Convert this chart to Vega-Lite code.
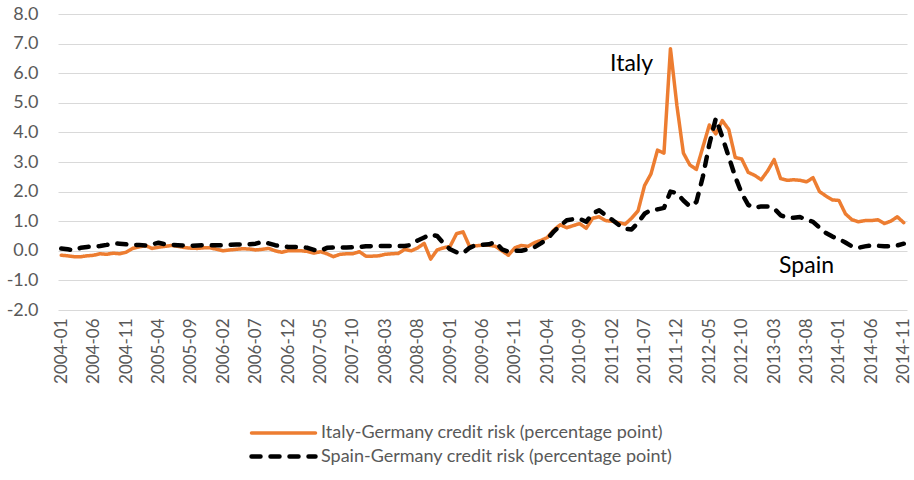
{
  "$schema": "https://vega.github.io/schema/vega-lite/v6.json",
  "autosize": "none",
  "width": 849,
  "height": 296,
  "padding": {"left": 58, "top": 14, "right": 7, "bottom": 170},
  "background": "white",
  "config": {
    "view": {"stroke": null},
    "font": "Lato",
    "legend": {"labelFont": "Lato"},
    "axis": {"labelFont": "Lato"},
    "axisX": {
      "title": null,
      "labelAngle": 270,
      "labelAlign": "right",
      "labelBaseline": "middle",
      "labelFontSize": 17,
      "labelColor": "#595959",
      "labelPadding": 8,
      "labelOverlap": false,
      "labelFlush": false,
      "ticks": false,
      "domain": false,
      "grid": false
    },
    "axisY": {
      "title": null,
      "labelOverlap": false,
      "labelFlush": false,
      "labelFontSize": 18,
      "labelColor": "#595959",
      "labelPadding": 20,
      "ticks": false,
      "domain": false,
      "grid": true,
      "gridColor": "#d9d9d9",
      "gridWidth": 1
    }
  },
  "datasets": {
    "spreads": [
      {"m":"2004-01","Italy":-0.15,"Spain":0.08},
      {"m":"2004-02","Italy":-0.17,"Spain":0.05},
      {"m":"2004-03","Italy":-0.2,"Spain":0.02},
      {"m":"2004-04","Italy":-0.2,"Spain":0.1},
      {"m":"2004-05","Italy":-0.17,"Spain":0.13},
      {"m":"2004-06","Italy":-0.15,"Spain":0.15},
      {"m":"2004-07","Italy":-0.1,"Spain":0.16},
      {"m":"2004-08","Italy":-0.12,"Spain":0.2},
      {"m":"2004-09","Italy":-0.08,"Spain":0.25},
      {"m":"2004-10","Italy":-0.1,"Spain":0.24},
      {"m":"2004-11","Italy":-0.05,"Spain":0.22},
      {"m":"2004-12","Italy":0.08,"Spain":0.19},
      {"m":"2005-01","Italy":0.13,"Spain":0.2},
      {"m":"2005-02","Italy":0.18,"Spain":0.18},
      {"m":"2005-03","Italy":0.08,"Spain":0.22},
      {"m":"2005-04","Italy":0.12,"Spain":0.27},
      {"m":"2005-05","Italy":0.15,"Spain":0.22},
      {"m":"2005-06","Italy":0.18,"Spain":0.2},
      {"m":"2005-07","Italy":0.15,"Spain":0.19},
      {"m":"2005-08","Italy":0.11,"Spain":0.18},
      {"m":"2005-09","Italy":0.09,"Spain":0.17},
      {"m":"2005-10","Italy":0.08,"Spain":0.18},
      {"m":"2005-11","Italy":0.1,"Spain":0.19},
      {"m":"2005-12","Italy":0.1,"Spain":0.19},
      {"m":"2006-01","Italy":0.05,"Spain":0.19},
      {"m":"2006-02","Italy":0.0,"Spain":0.19},
      {"m":"2006-03","Italy":0.03,"Spain":0.2},
      {"m":"2006-04","Italy":0.05,"Spain":0.21},
      {"m":"2006-05","Italy":0.07,"Spain":0.21},
      {"m":"2006-06","Italy":0.06,"Spain":0.22},
      {"m":"2006-07","Italy":0.03,"Spain":0.24},
      {"m":"2006-08","Italy":0.05,"Spain":0.3},
      {"m":"2006-09","Italy":0.08,"Spain":0.25},
      {"m":"2006-10","Italy":0.0,"Spain":0.19},
      {"m":"2006-11","Italy":-0.05,"Spain":0.15},
      {"m":"2006-12","Italy":0.0,"Spain":0.13},
      {"m":"2007-01","Italy":0.0,"Spain":0.13},
      {"m":"2007-02","Italy":0.0,"Spain":0.13},
      {"m":"2007-03","Italy":-0.02,"Spain":0.1},
      {"m":"2007-04","Italy":-0.08,"Spain":0.03},
      {"m":"2007-05","Italy":-0.03,"Spain":0.0},
      {"m":"2007-06","Italy":-0.1,"Spain":0.1},
      {"m":"2007-07","Italy":-0.2,"Spain":0.11},
      {"m":"2007-08","Italy":-0.12,"Spain":0.11},
      {"m":"2007-09","Italy":-0.1,"Spain":0.11},
      {"m":"2007-10","Italy":-0.1,"Spain":0.12},
      {"m":"2007-11","Italy":-0.03,"Spain":0.13},
      {"m":"2007-12","Italy":-0.18,"Spain":0.15},
      {"m":"2008-01","Italy":-0.18,"Spain":0.16},
      {"m":"2008-02","Italy":-0.17,"Spain":0.16},
      {"m":"2008-03","Italy":-0.12,"Spain":0.16},
      {"m":"2008-04","Italy":-0.1,"Spain":0.16},
      {"m":"2008-05","Italy":-0.09,"Spain":0.16},
      {"m":"2008-06","Italy":0.05,"Spain":0.16},
      {"m":"2008-07","Italy":0.0,"Spain":0.2},
      {"m":"2008-08","Italy":0.1,"Spain":0.35},
      {"m":"2008-09","Italy":0.25,"Spain":0.45},
      {"m":"2008-10","Italy":-0.28,"Spain":0.55},
      {"m":"2008-11","Italy":0.03,"Spain":0.5},
      {"m":"2008-12","Italy":0.1,"Spain":0.25},
      {"m":"2009-01","Italy":0.15,"Spain":0.05},
      {"m":"2009-02","Italy":0.58,"Spain":-0.05},
      {"m":"2009-03","Italy":0.64,"Spain":-0.08},
      {"m":"2009-04","Italy":0.15,"Spain":0.1},
      {"m":"2009-05","Italy":0.17,"Spain":0.2},
      {"m":"2009-06","Italy":0.19,"Spain":0.2},
      {"m":"2009-07","Italy":0.19,"Spain":0.22},
      {"m":"2009-08","Italy":0.15,"Spain":0.3},
      {"m":"2009-09","Italy":0.0,"Spain":0.05},
      {"m":"2009-10","Italy":-0.15,"Spain":-0.03},
      {"m":"2009-11","Italy":0.1,"Spain":0.0},
      {"m":"2009-12","Italy":0.18,"Spain":0.0},
      {"m":"2010-01","Italy":0.15,"Spain":0.05},
      {"m":"2010-02","Italy":0.27,"Spain":0.12},
      {"m":"2010-03","Italy":0.35,"Spain":0.25},
      {"m":"2010-04","Italy":0.45,"Spain":0.4},
      {"m":"2010-05","Italy":0.7,"Spain":0.65},
      {"m":"2010-06","Italy":0.88,"Spain":0.85},
      {"m":"2010-07","Italy":0.78,"Spain":1.03},
      {"m":"2010-08","Italy":0.85,"Spain":1.07},
      {"m":"2010-09","Italy":0.92,"Spain":1.08},
      {"m":"2010-10","Italy":0.76,"Spain":0.98},
      {"m":"2010-11","Italy":1.1,"Spain":1.26},
      {"m":"2010-12","Italy":1.15,"Spain":1.37},
      {"m":"2011-01","Italy":1.02,"Spain":1.2},
      {"m":"2011-02","Italy":1.0,"Spain":1.05},
      {"m":"2011-03","Italy":0.95,"Spain":0.88},
      {"m":"2011-04","Italy":0.9,"Spain":0.75},
      {"m":"2011-05","Italy":1.1,"Spain":0.72},
      {"m":"2011-06","Italy":1.35,"Spain":0.95},
      {"m":"2011-07","Italy":2.2,"Spain":1.25},
      {"m":"2011-08","Italy":2.6,"Spain":1.38},
      {"m":"2011-09","Italy":3.4,"Spain":1.4},
      {"m":"2011-10","Italy":3.3,"Spain":1.45},
      {"m":"2011-11","Italy":6.83,"Spain":2.0},
      {"m":"2011-12","Italy":4.9,"Spain":1.95},
      {"m":"2012-01","Italy":3.3,"Spain":1.7},
      {"m":"2012-02","Italy":2.9,"Spain":1.5},
      {"m":"2012-03","Italy":2.75,"Spain":1.65},
      {"m":"2012-04","Italy":3.5,"Spain":2.5},
      {"m":"2012-05","Italy":4.25,"Spain":3.6},
      {"m":"2012-06","Italy":3.95,"Spain":4.47},
      {"m":"2012-07","Italy":4.4,"Spain":3.85},
      {"m":"2012-08","Italy":4.1,"Spain":3.17},
      {"m":"2012-09","Italy":3.15,"Spain":2.5},
      {"m":"2012-10","Italy":3.1,"Spain":1.94},
      {"m":"2012-11","Italy":2.65,"Spain":1.55},
      {"m":"2012-12","Italy":2.55,"Spain":1.45},
      {"m":"2013-01","Italy":2.4,"Spain":1.5},
      {"m":"2013-02","Italy":2.7,"Spain":1.5},
      {"m":"2013-03","Italy":3.08,"Spain":1.43},
      {"m":"2013-04","Italy":2.44,"Spain":1.2},
      {"m":"2013-05","Italy":2.38,"Spain":1.12},
      {"m":"2013-06","Italy":2.4,"Spain":1.12},
      {"m":"2013-07","Italy":2.38,"Spain":1.14},
      {"m":"2013-08","Italy":2.33,"Spain":1.05},
      {"m":"2013-09","Italy":2.47,"Spain":0.98},
      {"m":"2013-10","Italy":2.0,"Spain":0.78},
      {"m":"2013-11","Italy":1.85,"Spain":0.6},
      {"m":"2013-12","Italy":1.72,"Spain":0.48},
      {"m":"2014-01","Italy":1.7,"Spain":0.4},
      {"m":"2014-02","Italy":1.25,"Spain":0.28},
      {"m":"2014-03","Italy":1.05,"Spain":0.15},
      {"m":"2014-04","Italy":0.98,"Spain":0.1},
      {"m":"2014-05","Italy":1.02,"Spain":0.15},
      {"m":"2014-06","Italy":1.02,"Spain":0.18},
      {"m":"2014-07","Italy":1.05,"Spain":0.17},
      {"m":"2014-08","Italy":0.92,"Spain":0.15},
      {"m":"2014-09","Italy":1.0,"Spain":0.15},
      {"m":"2014-10","Italy":1.15,"Spain":0.18},
      {"m":"2014-11","Italy":0.95,"Spain":0.24}
    ],
    "notes": [
      {"m":"2011-05","v":6.09,"t":"Italy"},
      {"m":"2013-08","v":-0.76,"t":"Spain"}
    ]
  },
  "layer": [
    {
      "data": {"name": "spreads"},
      "transform": [{"fold": ["Italy", "Spain"], "as": ["series", "value"]}],
      "mark": {"type": "line", "strokeCap": "round", "strokeJoin": "round"},
      "encoding": {
        "x": {
          "field": "m",
          "type": "ordinal",
          "scale": {"type": "point", "padding": 0.5},
          "axis": {
            "values": ["2004-01","2004-06","2004-11","2005-04","2005-09","2006-02","2006-07","2006-12","2007-05","2007-10","2008-03","2008-08","2009-01","2009-06","2009-11","2010-04","2010-09","2011-02","2011-07","2011-12","2012-05","2012-10","2013-03","2013-08","2014-01","2014-06","2014-11"]
          }
        },
        "y": {
          "field": "value",
          "type": "quantitative",
          "scale": {"domain": [-2, 8], "nice": false, "zero": false},
          "axis": {
            "values": [-2, -1, 0, 1, 2, 3, 4, 5, 6, 7, 8],
            "tickCount": 40,
            "labelExpr": "replace(format(datum.value, '.1f'), '\u2212', '-')"
          }
        },
        "color": {
          "field": "series",
          "type": "nominal",
          "scale": {"domain": ["Italy", "Spain"], "range": ["#ED7D31", "#000000"]},
          "legend": {
            "title": null,
            "orient": "none",
            "legendX": 215,
            "legendY": 409,
            "direction": "vertical",
            "symbolType": "M-4,0H4",
            "symbolSize": 256,
            "symbolStrokeWidth": 4,
            "labelFontSize": 18,
            "labelColor": "#595959",
            "labelOffset": 27,
            "labelLimit": 0,
            "rowPadding": 4,
            "labelExpr": "datum.label == 'Italy' ? 'Italy-Germany credit risk (percentage point)' : 'Spain-Germany credit risk (percentage point)'",
            "encode": {"symbols": {"update": {"strokeCap": {"value": "round"}}}}
          }
        },
        "strokeDash": {
          "field": "series",
          "type": "nominal",
          "scale": {"domain": ["Italy", "Spain"], "range": [[1, 0], [9, 10]]},
          "legend": {
            "title": null,
            "orient": "none",
            "legendX": 215,
            "legendY": 409,
            "direction": "vertical",
            "symbolType": "M-4,0H4",
            "symbolSize": 256,
            "symbolStrokeWidth": 4,
            "labelFontSize": 18,
            "labelColor": "#595959",
            "labelOffset": 27,
            "labelLimit": 0,
            "rowPadding": 4,
            "labelExpr": "datum.label == 'Italy' ? 'Italy-Germany credit risk (percentage point)' : 'Spain-Germany credit risk (percentage point)'",
            "encode": {"symbols": {"update": {"strokeCap": {"value": "round"}}}}
          }
        },
        "strokeWidth": {
          "field": "series",
          "type": "nominal",
          "scale": {"domain": ["Italy", "Spain"], "range": [3.5, 4.5]},
          "legend": null
        }
      }
    },
    {
      "data": {"name": "notes"},
      "mark": {"type": "text", "fontSize": 23, "color": "#000000", "align": "center", "baseline": "alphabetic", "font": "Lato"},
      "encoding": {
        "x": {
          "field": "m",
          "type": "ordinal",
          "axis": {
            "values": ["2004-01","2004-06","2004-11","2005-04","2005-09","2006-02","2006-07","2006-12","2007-05","2007-10","2008-03","2008-08","2009-01","2009-06","2009-11","2010-04","2010-09","2011-02","2011-07","2011-12","2012-05","2012-10","2013-03","2013-08","2014-01","2014-06","2014-11"]
          }
        },
        "y": {
          "field": "v",
          "type": "quantitative",
          "axis": {
            "values": [-2, -1, 0, 1, 2, 3, 4, 5, 6, 7, 8],
            "tickCount": 40,
            "labelExpr": "replace(format(datum.value, '.1f'), '\u2212', '-')"
          }
        },
        "text": {"field": "t"}
      }
    }
  ]
}
